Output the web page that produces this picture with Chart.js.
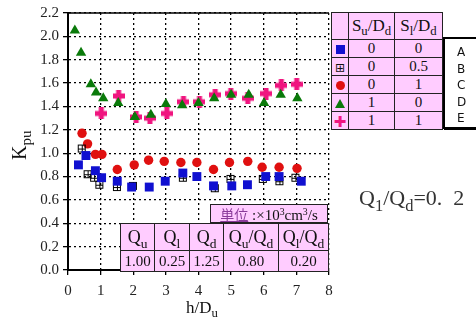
<!DOCTYPE html>
<html>
<head>
<meta charset="utf-8">
<script src="https://cdn.jsdelivr.net/npm/chart.js@4"></script>
<style>
  body { margin: 0; background: #fff; }
  #wrap { position: relative; width: 476px; height: 327px; overflow: hidden; font-family: "Liberation Serif", "DejaVu Serif", serif; color: #111; }
  #wrap canvas { position: absolute; left: 0; top: 0; }
  .ov { position: absolute; white-space: nowrap; }
  table.t { position: absolute; border-collapse: collapse; table-layout: fixed; background: #ffccff; }
  table.t td { border: 1px solid #222; padding: 0; text-align: center; overflow: hidden; }
  sub { font-size: 75%; vertical-align: -0.35em; line-height: 0; }
  sup { font-size: 65%; vertical-align: 0.5em; line-height: 0; }
  .mk { display: inline-block; vertical-align: middle; }
</style>
</head>
<body>
<div id="wrap">
  <canvas id="c" width="476" height="327"></canvas>

  <div class="ov" style="left:-2px; top:126px; font-size:20px; transform:rotate(-90deg); transform-origin:22px 12px;">K<sub>pu</sub></div>
  <div class="ov" style="left:186px; top:298px; font-size:17px;">h/D<sub>u</sub></div>

  <table class="t" style="left:331px; top:12px; width:111px;">
    <colgroup><col style="width:17px"><col style="width:46px"><col style="width:48px"></colgroup>
    <tr style="height:27px; font-size:17px;"><td></td><td>S<sub>u</sub>/D<sub>d</sub></td><td>S<sub>l</sub>/D<sub>d</sub></td></tr>
    <tr style="height:17px; font-size:15px;"><td><span class="mk" style="width:9px;height:9px;background:#1010d0;"></span></td><td>0</td><td>0</td></tr>
    <tr style="height:17px; font-size:15px;"><td><span class="mk" style="font-size:12px;line-height:10px;font-family:'DejaVu Sans';">⊞</span></td><td>0</td><td>0.5</td></tr>
    <tr style="height:18px; font-size:15px;"><td><span class="mk" style="width:9px;height:9px;border-radius:50%;background:#e01010;"></span></td><td>0</td><td>1</td></tr>
    <tr style="height:17px; font-size:15px;"><td><span class="mk" style="width:0;height:0;border-left:5px solid transparent;border-right:5px solid transparent;border-bottom:9px solid #0a7a0a;"></span></td><td>1</td><td>0</td></tr>
    <tr style="height:17px; font-size:15px;"><td><span class="mk" style="font-size:15px;line-height:10px;color:#f0157f;font-family:'DejaVu Sans';font-weight:bold;">✚</span></td><td>1</td><td>1</td></tr>
  </table>

  <div class="ov" style="left:443px; top:37px; width:40px; height:92px; border:2px solid #000; box-shadow:1px 1px 0 #000; background:#fff; font-family:'DejaVu Sans', sans-serif; font-size:12px; line-height:16.6px; padding-top:5px; box-sizing:border-box;">
    <div style="padding-left:12px;">A<br>B<br>C<br>D<br>E</div>
  </div>

  <div class="ov" style="left:359px; top:185px; font-size:22px; color:#333; font-family:'Liberation Serif', serif;">Q<sub>1</sub>/Q<sub>d</sub>=0.&nbsp;&nbsp;2</div>

  <div class="ov" style="left:210px; top:204px; width:118px; height:19px; box-sizing:border-box; border:1px solid #222; background:#ffccff; font-size:15px; line-height:18px; text-align:center;"><span style="color:#8a3a9a; text-decoration:underline; font-family:'Noto Sans CJK JP', sans-serif; font-size:14px;">単位</span> :×10<sup>3</sup>cm<sup>3</sup>/s</div>

  <table class="t" style="left:120px; top:223px; width:208px;">
    <colgroup><col style="width:34px"><col style="width:35px"><col style="width:34px"><col style="width:55px"><col style="width:50px"></colgroup>
    <tr style="height:27px; font-size:18px;"><td>Q<sub>u</sub></td><td>Q<sub>l</sub></td><td>Q<sub>d</sub></td><td>Q<sub>u</sub>/Q<sub>d</sub></td><td>Q<sub>l</sub>/Q<sub>d</sub></td></tr>
    <tr style="height:21px; font-size:15px;"><td>1.00</td><td>0.25</td><td>1.25</td><td>0.80</td><td>0.20</td></tr>
  </table>
</div>

<script>
// データ (h/Du, Kpu)
const xTicks = [0, 1, 2, 3, 4, 5, 6, 7, 8];
const yTicks = [0.0, 0.2, 0.4, 0.6, 0.8, 1.0, 1.2, 1.4, 1.6, 1.8, 2.0, 2.2];

// A: Su/Dd=0, Sl/Dd=0
const aX = [0.32, 0.55, 0.84, 1.03, 1.51, 1.95, 2.49, 2.98, 3.52, 3.95, 4.46, 5.02, 5.50, 6.06, 6.47, 7.15];
const aY = [0.90, 0.98, 0.85, 0.79, 0.76, 0.71, 0.71, 0.76, 0.83, 0.80, 0.72, 0.72, 0.73, 0.80, 0.80, 0.76];
// B: Su/Dd=0, Sl/Dd=0.5
const bX = [0.42, 0.60, 0.80, 0.96, 1.50, 1.99, 3.52, 4.50, 4.98, 5.97, 6.48, 6.97];
const bY = [1.04, 0.82, 0.79, 0.73, 0.71, 0.72, 0.79, 0.70, 0.78, 0.78, 0.76, 0.79];
// C: Su/Dd=0, Sl/Dd=1
const cX = [0.43, 0.60, 0.84, 1.04, 1.51, 2.03, 2.47, 2.95, 3.46, 3.95, 4.46, 4.95, 5.51, 5.95, 6.47, 7.02];
const cY = [1.17, 1.08, 0.99, 0.99, 0.86, 0.90, 0.94, 0.93, 0.92, 0.92, 0.86, 0.92, 0.93, 0.88, 0.88, 0.87];
// D: Su/Dd=1, Sl/Dd=0
const dX = [0.21, 0.40, 0.70, 0.86, 1.08, 1.54, 2.05, 2.54, 3.00, 3.50, 4.00, 4.48, 5.00, 5.54, 6.01, 6.52, 7.03];
const dY = [2.05, 1.86, 1.59, 1.52, 1.47, 1.43, 1.31, 1.33, 1.42, 1.41, 1.43, 1.47, 1.50, 1.50, 1.43, 1.50, 1.47];
// E: Su/Dd=1, Sl/Dd=1
const eX = [1.02, 1.55, 2.09, 2.51, 3.03, 3.54, 4.03, 4.51, 4.99, 5.51, 6.07, 6.54, 7.01];
const eY = [1.34, 1.49, 1.31, 1.30, 1.34, 1.44, 1.44, 1.50, 1.51, 1.47, 1.51, 1.58, 1.59];

function pts(xs, ys) {
    return xs.map((x, i) => ({ x: x, y: ys[i] }));
}

// 田マーカー
function makeBoxCross() {
    const c = document.createElement('canvas');
    c.width = 10; c.height = 10;
    const g = c.getContext('2d');
    g.strokeStyle = '#000';
    g.lineWidth = 1;
    g.strokeRect(1.5, 1.5, 7, 7);
    g.beginPath();
    g.moveTo(5.5, 1.5); g.lineTo(5.5, 8.5);
    g.moveTo(1.5, 5.5); g.lineTo(8.5, 5.5);
    g.stroke();
    return c;
}

// ＋マーカー
function makePlus() {
    const c = document.createElement('canvas');
    c.width = 12; c.height = 12;
    const g = c.getContext('2d');
    g.fillStyle = '#f0157f';
    g.fillRect(3.5, 0, 5, 12);
    g.fillRect(0, 3.5, 12, 5);
    return c;
}

const topLine = {
    id: 'topLine',
    afterDraw(chart) {
        const a = chart.chartArea, g = chart.ctx;
        g.save();
        g.strokeStyle = '#000';
        g.lineWidth = 1.5;
        g.beginPath();
        g.moveTo(a.left, a.top);
        g.lineTo(a.right, a.top);
        g.stroke();
        g.restore();
    }
};

const tickFont = { family: "'Liberation Serif', serif", size: 15 };

new Chart(document.getElementById('c'), {
    type: 'scatter',
    data: {
        datasets: [
            { label: 'A', data: pts(aX, aY), pointStyle: 'rect', pointRadius: 6.3, backgroundColor: '#1010d0', borderWidth: 0 },
            { label: 'B', data: pts(bX, bY), pointStyle: makeBoxCross() },
            { label: 'C', data: pts(cX, cY), pointStyle: 'circle', pointRadius: 4.7, backgroundColor: '#e01010', borderWidth: 0 },
            { label: 'D', data: pts(dX, dY), pointStyle: 'triangle', pointRadius: 6, backgroundColor: '#0a7a0a', borderWidth: 0 },
            { label: 'E', data: pts(eX, eY), pointStyle: makePlus() }
        ]
    },
    options: {
        responsive: false,
        animation: false,
        layout: { padding: { left: 0, right: 147, top: 11, bottom: 0 } },
        plugins: { legend: { display: false }, tooltip: { enabled: false } },
        scales: {
            x: {
                type: 'linear', min: 0, max: 8,
                afterBuildTicks: s => { s.ticks = xTicks.map(v => ({ value: v })); },
                afterFit: s => { s.height = 57; },
                ticks: { font: tickFont, color: '#222', padding: 7 },
                grid: { color: '#000', lineWidth: 1.3, tickLength: 5, tickColor: '#000', tickWidth: 1.3 },
                border: { color: '#000', width: 2, dash: [2, 3] }
            },
            y: {
                min: 0, max: 2.2,
                afterBuildTicks: s => { s.ticks = yTicks.map(v => ({ value: v })); },
                afterFit: s => { s.width = 68; },
                ticks: { font: tickFont, color: '#222', padding: 4, callback: v => v.toFixed(1) },
                grid: { color: '#000', lineWidth: 1.3, tickLength: 5, tickColor: '#000', tickWidth: 1.3 },
                border: { color: '#000', width: 2, dash: [2, 3] }
            }
        }
    },
    plugins: [topLine]
});
</script>
</body>
</html>
